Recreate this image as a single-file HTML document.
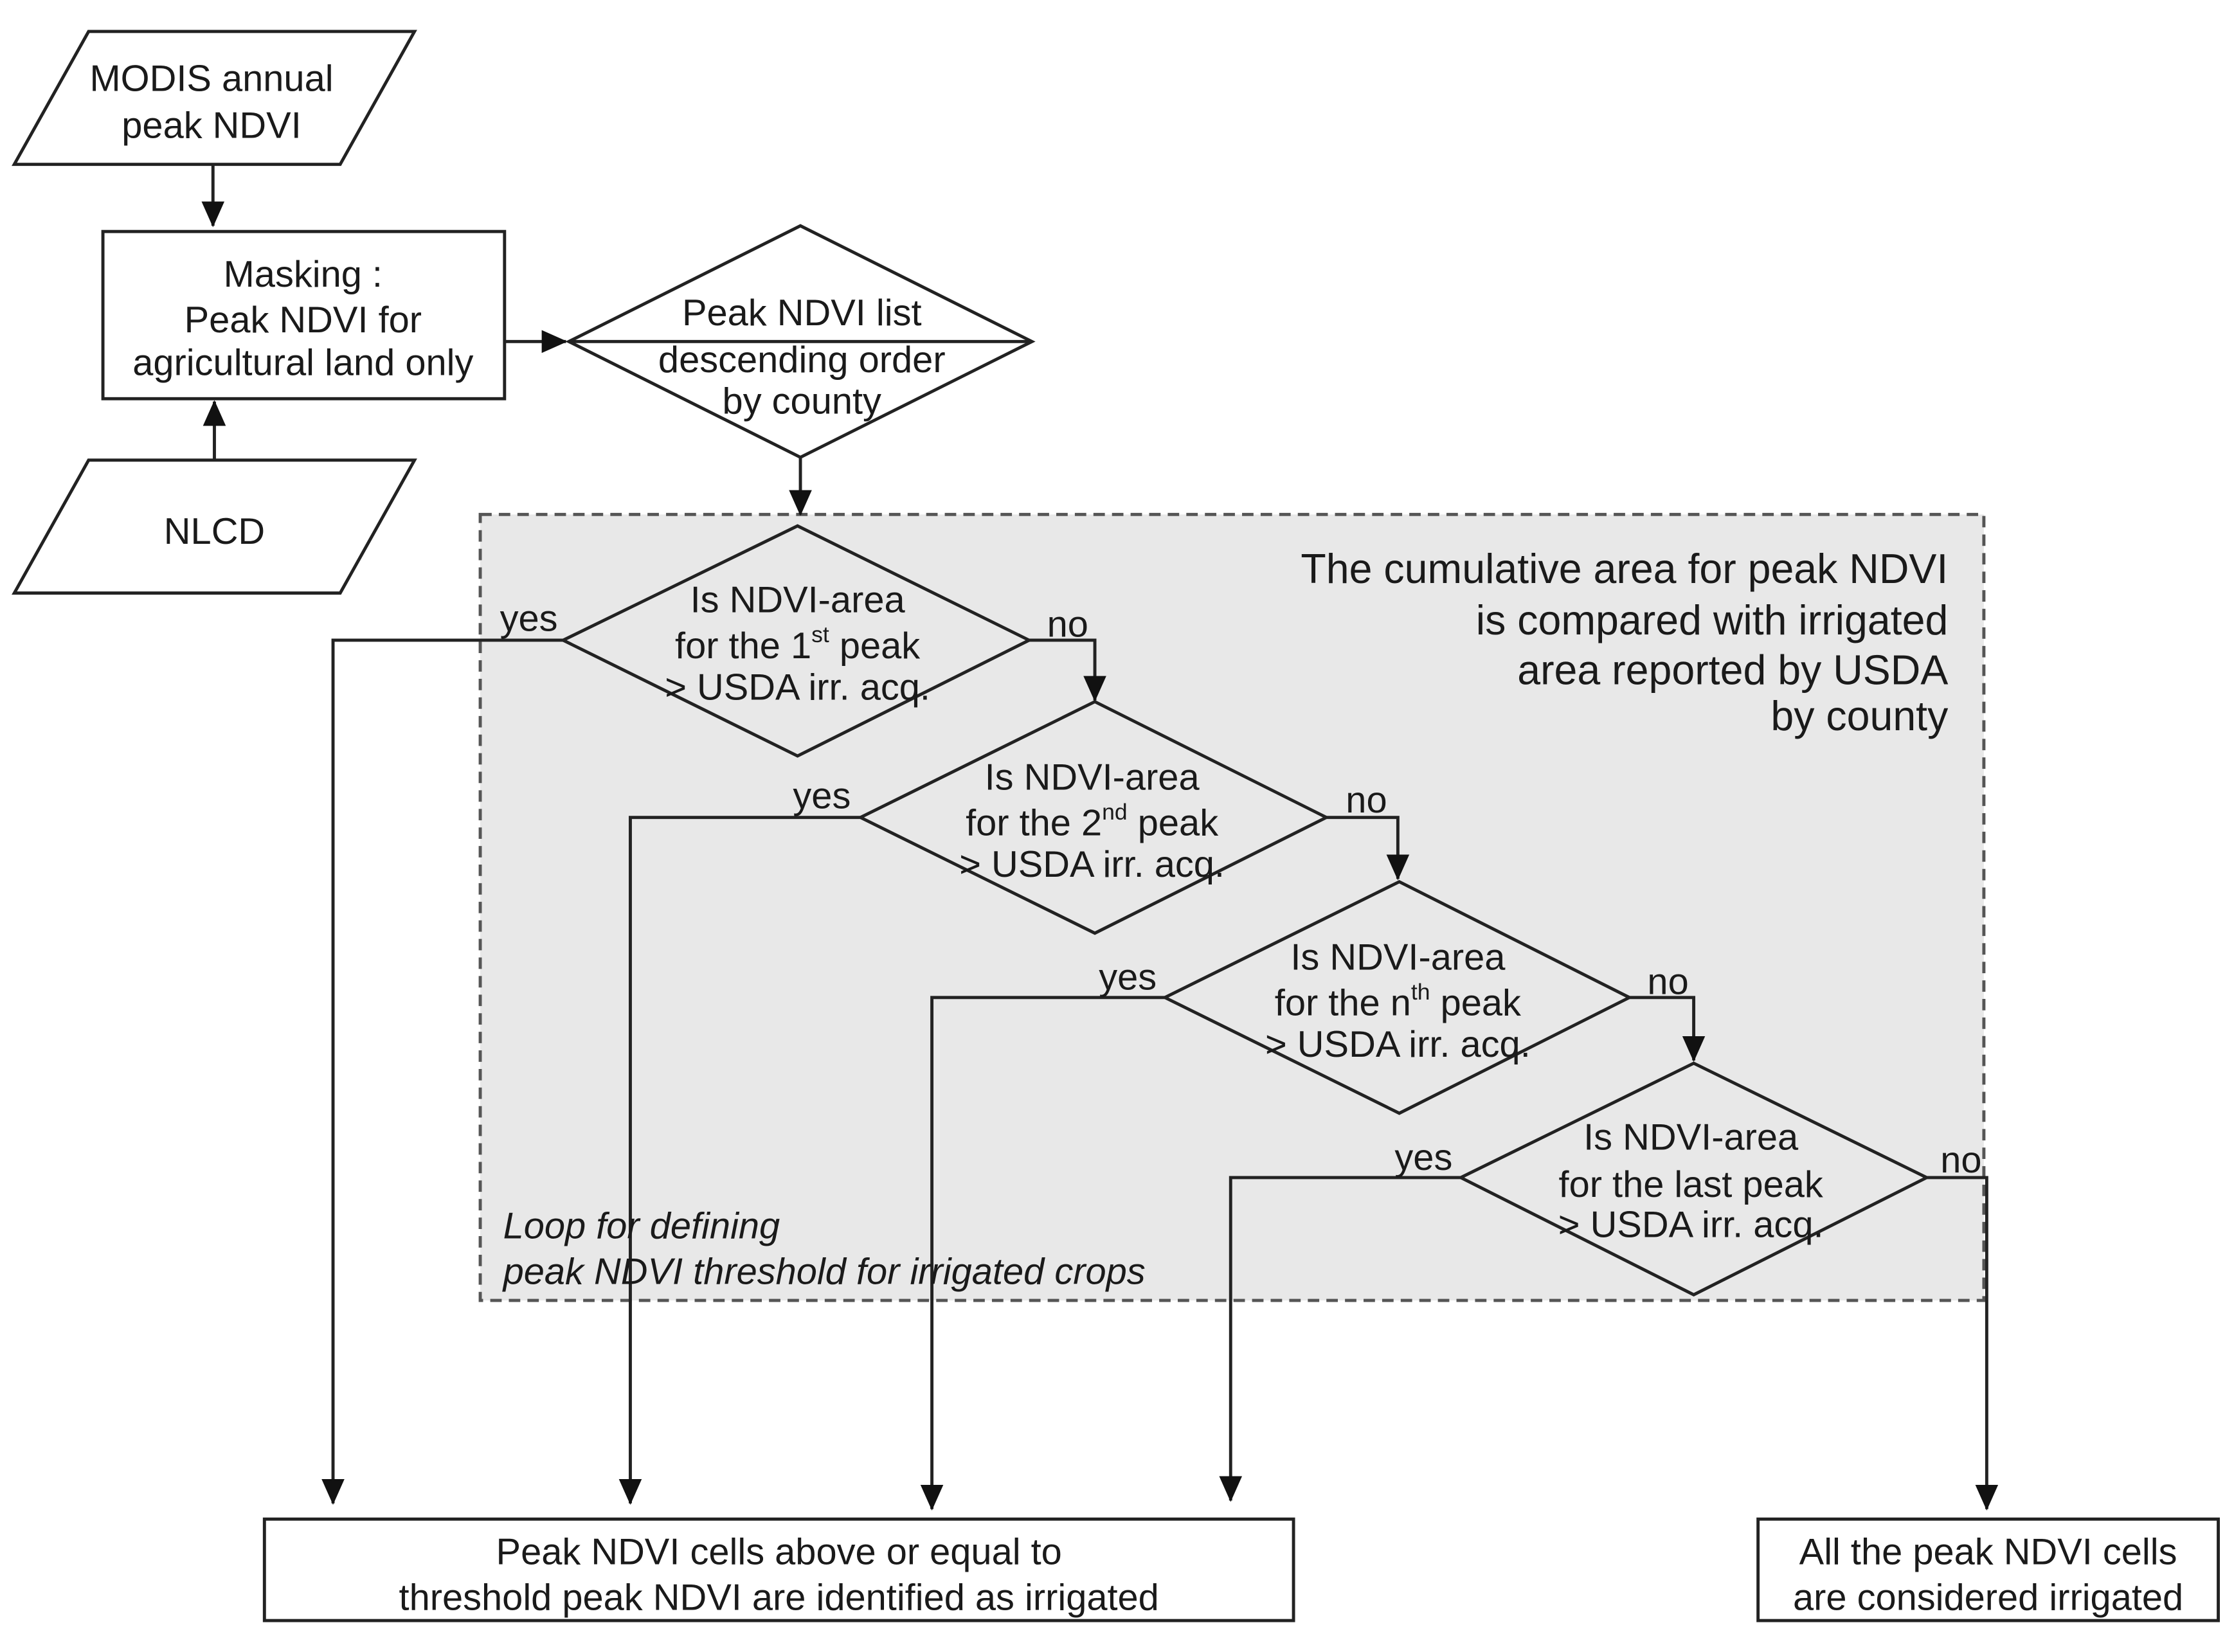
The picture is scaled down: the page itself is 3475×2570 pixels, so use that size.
<!DOCTYPE html>
<html><head><meta charset="utf-8"><style>
html,body{margin:0;padding:0;background:#fff;}
svg{display:block;}
text{font-family:"Liberation Sans",sans-serif;fill:#1a1a1a;}
</style></head><body>
<svg width="3475" height="2570" viewBox="0 0 1563 1156" preserveAspectRatio="none" xmlns="http://www.w3.org/2000/svg">
<defs>
<marker id="b" markerWidth="18" markerHeight="18" refX="17" refY="8" orient="auto" markerUnits="userSpaceOnUse" viewBox="0 0 18 16">
<path d="M0,0 L18,8 L0,16 z" fill="#111"/></marker>
</defs>
<g stroke="#222" stroke-width="2.2" fill="none">
<rect x="336" y="360" width="1052" height="550" fill="#e8e8e8" stroke="#555" stroke-dasharray="8,5"/>
<polygon points="62,22 290,22 238,115 10,115" fill="#fff"/>
<polygon points="62,322 290,322 238,415 10,415" fill="#fff"/>
<rect x="72" y="162" width="281" height="117" fill="#fff"/>
<polygon points="398,239 560,158 722,239 560,320" fill="#fff"/>
<line x1="398" y1="239" x2="722" y2="239"/>
<polygon points="394,448 558,368 720,448 558,529"/>
<polygon points="602,572 766,491 928,572 766,653"/>
<polygon points="815,698 979,617 1140,698 979,779"/>
<polygon points="1022,824 1185,744 1348,824 1185,906"/>
<rect x="185" y="1063" width="720" height="71" fill="#fff"/>
<rect x="1230" y="1063" width="322" height="71" fill="#fff"/>
<g marker-end="url(#b)">
<line x1="149" y1="115" x2="149" y2="158"/>
<line x1="150" y1="322" x2="150" y2="281"/>
<line x1="353" y1="239" x2="396" y2="239"/>
<line x1="560" y1="320" x2="560" y2="360"/>
<polyline points="394,448 233,448 233,1052"/>
<polyline points="720,448 766,448 766,490"/>
<polyline points="602,572 441,572 441,1052"/>
<polyline points="928,572 978,572 978,615"/>
<polyline points="815,698 652,698 652,1056"/>
<polyline points="1140,698 1185,698 1185,742"/>
<polyline points="1022,824 861,824 861,1050"/>
<polyline points="1348,824 1390,824 1390,1056"/>
</g>
</g>
<g font-size="26" text-anchor="middle" dominant-baseline="central">
<text x="148" y="55">MODIS annual</text>
<text x="148" y="88">peak NDVI</text>
<text x="150" y="372">NLCD</text>
<text x="212" y="192">Masking :</text>
<text x="212" y="224">Peak NDVI for</text>
<text x="212" y="254">agricultural land only</text>
<text x="561" y="219">Peak NDVI list</text>
<text x="561" y="252">descending order</text>
<text x="561" y="281">by county</text>
<text x="558" y="420">Is NDVI-area</text>
<text x="558" y="452">for the 1<tspan font-size="16" dy="-8">st</tspan><tspan dy="8"> peak</tspan></text>
<text x="558" y="481">&gt; USDA irr. acq.</text>
<text x="764" y="544">Is NDVI-area</text>
<text x="764" y="576">for the 2<tspan font-size="16" dy="-8">nd</tspan><tspan dy="8"> peak</tspan></text>
<text x="764" y="605">&gt; USDA irr. acq.</text>
<text x="978" y="670">Is NDVI-area</text>
<text x="978" y="702">for the n<tspan font-size="16" dy="-8">th</tspan><tspan dy="8"> peak</tspan></text>
<text x="978" y="731">&gt; USDA irr. acq.</text>
<text x="1183" y="796">Is NDVI-area</text>
<text x="1183" y="829">for the last peak</text>
<text x="1183" y="857">&gt; USDA irr. acq.</text>
<text x="370" y="433">yes</text>
<text x="575" y="557">yes</text>
<text x="789" y="684">yes</text>
<text x="996" y="810">yes</text>
<text x="747" y="437">no</text>
<text x="956" y="560">no</text>
<text x="1167" y="687">no</text>
<text x="1372" y="812">no</text>
<text x="545" y="1086">Peak NDVI cells above or equal to</text>
<text x="545" y="1118">threshold peak NDVI are identified as irrigated</text>
<text x="1391" y="1086">All the peak NDVI cells</text>
<text x="1391" y="1118">are considered irrigated</text>
</g>
<g font-size="29" text-anchor="end" dominant-baseline="central">
<text x="1363" y="398">The cumulative area for peak NDVI</text>
<text x="1363" y="434">is compared with irrigated</text>
<text x="1363" y="469">area reported by USDA</text>
<text x="1363" y="501">by county</text>
</g>
<g font-size="26" font-style="italic" dominant-baseline="central">
<text x="352" y="858">Loop for defining</text>
<text x="352" y="890">peak NDVI threshold for irrigated crops</text>
</g>
</svg>
</body></html>
